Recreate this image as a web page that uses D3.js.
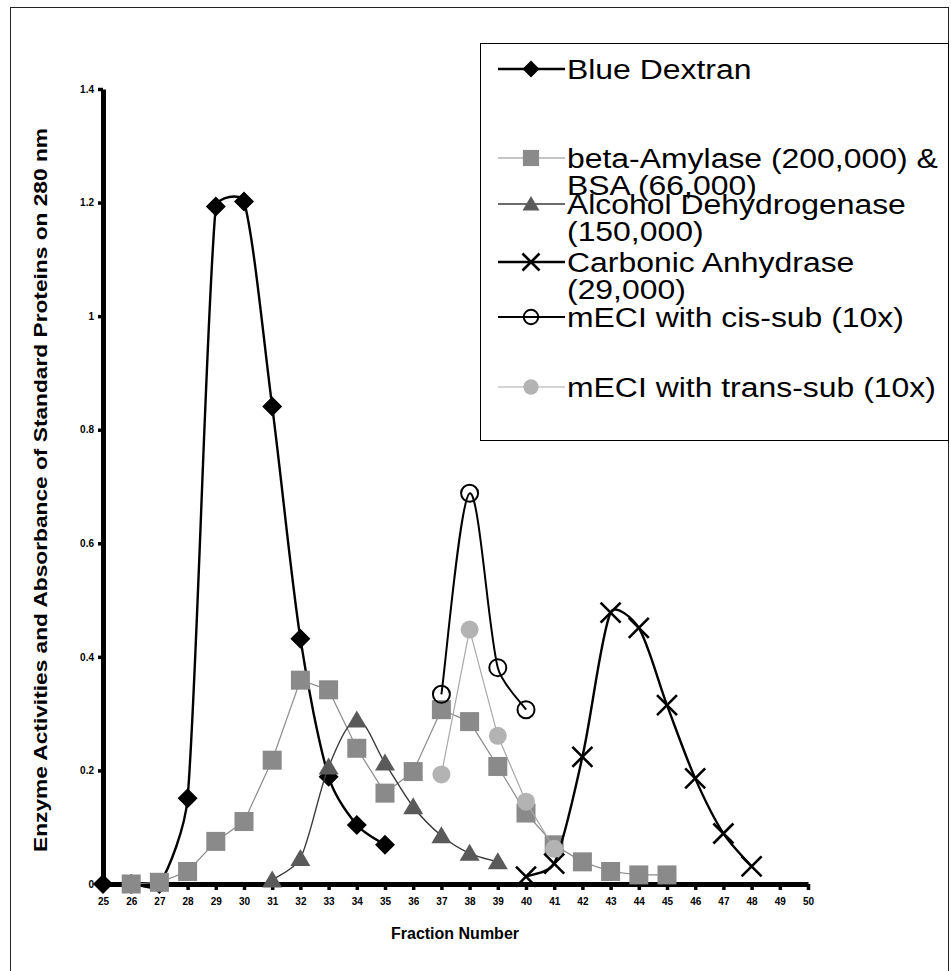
<!DOCTYPE html>
<html>
<head>
<meta charset="utf-8">
<script src="https://cdn.jsdelivr.net/npm/d3@7"></script>
<style>
  html, body { margin: 0; padding: 0; background: #fff; }
  svg { display: block; }
  text { font-family: "Liberation Sans", Arial, sans-serif; fill: #000; }
</style>
</head>
<body>
<svg id="chart" width="951" height="971"></svg>
<script>
// Fraction numbers and absorbance readings for each standard / sample
const blueDextranX = [25, 26, 27, 28, 29, 30, 31, 32, 33, 34, 35];
const blueDextranY = [0, 0, 0, 0.151, 1.193, 1.202, 0.841, 0.432, 0.189, 0.104, 0.069];

const amylaseX = [26, 27, 28, 29, 30, 31, 32, 33, 34, 35, 36, 37, 38, 39, 40, 41, 42, 43, 44, 45];
const amylaseY = [0, 0.003, 0.022, 0.075, 0.110, 0.218, 0.359, 0.342, 0.239, 0.160, 0.198, 0.307, 0.286, 0.207, 0.125, 0.069, 0.039, 0.022, 0.016, 0.016];

const adhX = [31, 32, 33, 34, 35, 36, 37, 38, 39];
const adhY = [0.007, 0.045, 0.206, 0.289, 0.213, 0.136, 0.085, 0.054, 0.039];

const carbonicX = [40, 41, 42, 43, 44, 45, 46, 47, 48];
const carbonicY = [0.013, 0.036, 0.224, 0.478, 0.451, 0.315, 0.186, 0.089, 0.031];

const cisX = [37, 38, 39, 40];
const cisY = [0.334, 0.688, 0.381, 0.307];

const transX = [37, 38, 39, 40, 41];
const transY = [0.193, 0.448, 0.261, 0.145, 0.062];

const xTicks = d3.range(25, 51);
const yTicks = [0, 0.2, 0.4, 0.6, 0.8, 1, 1.2, 1.4];
const yTickLabels = ["0", "0.2", "0.4", "0.6", "0.8", "1", "1.2", "1.4"];

const legendLabels = [
  ["Blue Dextran"],
  ["beta-Amylase (200,000) &", "BSA (66,000)"],
  ["Alcohol Dehydrogenase", "(150,000)"],
  ["Carbonic Anhydrase", "(29,000)"],
  ["mECI with cis-sub (10x)"],
  ["mECI with trans-sub (10x)"]
];

const svg = d3.select("#chart");

// outer frame
svg.append("rect")
  .attr("x", 10.5).attr("y", 7.5)
  .attr("width", 938).attr("height", 1000)
  .attr("fill", "none").attr("stroke", "#222").attr("stroke-width", 1);

const x = d3.scaleLinear().domain([25, 50]).range([103, 808]);
const y = d3.scaleLinear().domain([0, 1.4]).range([884, 89]);

// smoothed path: Catmull-Rom tangents, control arms capped to a third of each segment
function smoothPath(pts) {
  const n = pts.length;
  const tan = pts.map((p, i) => {
    const a = pts[Math.max(i - 1, 0)], b = pts[Math.min(i + 1, n - 1)];
    return [(b[0] - a[0]) / 6, (b[1] - a[1]) / 6];
  });
  const cap = (v, lim) => {
    const len = Math.hypot(v[0], v[1]);
    return len > lim && len > 0 ? [v[0] * lim / len, v[1] * lim / len] : v;
  };
  const p = d3.path();
  p.moveTo(pts[0][0], pts[0][1]);
  for (let i = 0; i < n - 1; i++) {
    const A = pts[i], B = pts[i + 1];
    const lim = Math.hypot(B[0] - A[0], B[1] - A[1]) / 3;
    const t1 = cap(tan[i], lim), t2 = cap(tan[i + 1], lim);
    p.bezierCurveTo(A[0] + t1[0], A[1] + t1[1], B[0] - t2[0], B[1] - t2[1], B[0], B[1]);
  }
  return p.toString();
}

// marker painters
function diamond(g, s) {
  g.append("path").attr("d", `M0,${-s}L${s},0L0,${s}L${-s},0Z`).attr("fill", "#000");
}
function square(g, s) {
  g.append("rect").attr("x", -s).attr("y", -s).attr("width", 2 * s).attr("height", 2 * s)
    .attr("fill", "#8a8a8a");
}
function triangle(g, s) {
  g.append("path").attr("d", `M0,${-s * 0.95}L${s},${s * 0.75}L${-s},${s * 0.75}Z`)
    .attr("fill", "#5a5a5a");
}
function cross(g, s) {
  g.append("path").attr("d", `M${-s},${-s}L${s},${s}M${-s},${s}L${s},${-s}`)
    .attr("stroke", "#000").attr("stroke-width", 2.6).attr("fill", "none");
}
function openCircle(g, s) {
  g.append("circle").attr("r", s).attr("fill", "none").attr("stroke", "#000").attr("stroke-width", 2);
}
function grayCircle(g, s) {
  g.append("circle").attr("r", s).attr("fill", "#b3b3b3");
}

const series = [
  { xs: blueDextranX, ys: blueDextranY, color: "#000", width: 2.4, smooth: true, marker: diamond, size: 10 },
  { xs: amylaseX, ys: amylaseY, color: "#8a8a8a", width: 1.2, smooth: false, marker: square, size: 9.5 },
  { xs: adhX, ys: adhY, color: "#3a3a3a", width: 1.4, smooth: true, marker: triangle, size: 10 },
  { xs: carbonicX, ys: carbonicY, color: "#000", width: 2.4, smooth: true, marker: cross, size: 10 },
  { xs: cisX, ys: cisY, color: "#000", width: 2, smooth: true, marker: openCircle, size: 8.5 },
  { xs: transX, ys: transY, color: "#a8a8a8", width: 1.2, smooth: false, marker: grayCircle, size: 9 }
];

// axes
const yAxis = d3.axisLeft(y).tickValues(yTicks).tickSize(5).tickSizeOuter(0).tickPadding(4)
  .tickFormat((d, i) => yTickLabels[i]);
const gy = svg.append("g").attr("transform", "translate(103,0)").call(yAxis);
gy.select(".domain").attr("stroke", "#000").attr("stroke-width", 5);
gy.selectAll(".tick line").attr("stroke", "#000").attr("stroke-width", 3.5);
gy.selectAll(".tick text").attr("font-size", 10).attr("font-weight", "bold")
  .style("font-family", "'Liberation Sans', Arial, sans-serif");

const xAxis = d3.axisBottom(x).tickValues(xTicks).tickSize(6).tickSizeOuter(0).tickPadding(8)
  .tickFormat(d3.format("d"));
const gx = svg.append("g").attr("transform", "translate(0,884)").call(xAxis);
gx.select(".domain").attr("stroke", "#000").attr("stroke-width", 5);
gx.selectAll(".tick line").attr("stroke", "#000").attr("stroke-width", 3.5);
gx.selectAll(".tick text").attr("font-size", 10).attr("font-weight", "bold")
  .style("font-family", "'Liberation Sans', Arial, sans-serif");

// axis titles
svg.append("text")
  .attr("transform", "translate(47,490) rotate(-90)")
  .attr("text-anchor", "middle")
  .attr("font-size", 18).attr("font-weight", "bold")
  .attr("textLength", 724).attr("lengthAdjust", "spacingAndGlyphs")
  .style("font-family", "'Liberation Sans Narrow', 'Liberation Sans', Arial, sans-serif")
  .text("Enzyme Activities and Absorbance of Standard Proteins on 280 nm");

svg.append("text")
  .attr("x", 455).attr("y", 939)
  .attr("text-anchor", "middle")
  .attr("font-size", 16).attr("font-weight", "bold")
  .text("Fraction Number");

// series lines and markers
series.forEach(s => {
  const pts = s.xs.map((v, i) => [x(v), y(s.ys[i])]);
  const d = s.smooth ? smoothPath(pts) : d3.line()(pts);
  svg.append("path")
    .attr("d", d)
    .attr("fill", "none")
    .attr("stroke", s.color)
    .attr("stroke-width", s.width);
  pts.forEach(p => {
    const g = svg.append("g").attr("transform", `translate(${p[0]},${p[1]})`);
    s.marker(g, s.size);
  });
});

// legend
const legend = svg.append("g");
legend.append("rect")
  .attr("x", 480.5).attr("y", 43.5).attr("width", 468).attr("height", 397)
  .attr("fill", "#fff").attr("stroke", "#000").attr("stroke-width", 1);

const legendRowY = [69, 158, 204, 262, 317, 387];
series.forEach((s, i) => {
  const ry = legendRowY[i];
  legend.append("line")
    .attr("x1", 498).attr("x2", 565).attr("y1", ry).attr("y2", ry)
    .attr("stroke", s.color).attr("stroke-width", s.width);
  const g = legend.append("g").attr("transform", `translate(531,${ry})`);
  s.marker(g, s.size * 0.85);
  legendLabels[i].forEach((t, j) => {
    legend.append("text")
      .attr("transform", `translate(567,${ry + 10 + j * 27}) scale(1.14,1)`)
      .attr("font-size", 28)
      .text(t);
  });
});
</script>
</body>
</html>
